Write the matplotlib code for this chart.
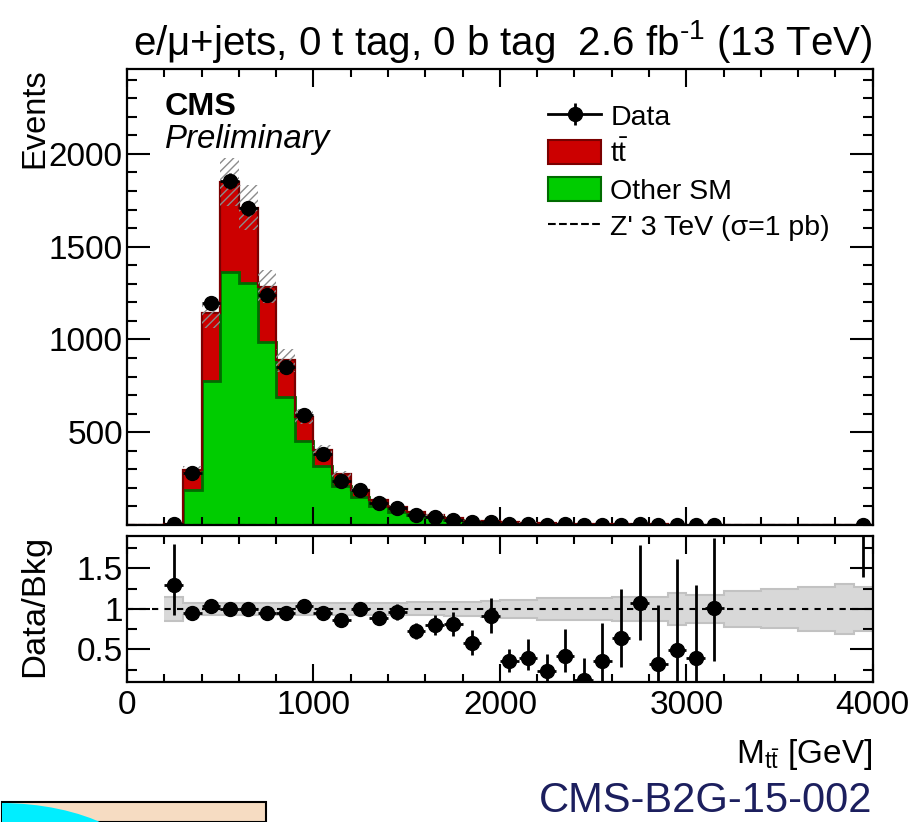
import numpy as np
import matplotlib
matplotlib.use("Agg")
import matplotlib.pyplot as plt
from matplotlib.patches import Patch, Rectangle, Ellipse
from matplotlib.lines import Line2D
from matplotlib.ticker import MultipleLocator, FixedLocator, FuncFormatter

plt.rcParams['font.family'] = ['Liberation Sans', 'DejaVu Sans']
plt.rcParams['mathtext.fontset'] = 'custom'
plt.rcParams['mathtext.rm'] = 'Liberation Sans'
plt.rcParams['mathtext.it'] = 'Liberation Sans:italic'
plt.rcParams['mathtext.bf'] = 'Liberation Sans:bold'
plt.rcParams['hatch.linewidth'] = 1.0
plt.rcParams['hatch.color'] = '#8c8c8c'

# 100 GeV bins, 0 - 4000 GeV
edges = np.arange(0, 4100, 100)
centers = edges[:-1] + 50

other_sm = np.array([0, 0, 4, 191, 777, 1361, 1305, 987, 690, 451,
                     317, 209, 151, 101, 72, 55, 42, 28, 19, 16,
                     13, 10, 7, 5.5, 4.5, 3.5, 2.8, 2.3, 2.2, 1.6,
                     1.5, 1.0, 0.8, 0.6, 0.5, 0.4, 0.3, 0.25, 0.2, 0.2])
ttbar = np.array([0, 0, 2, 104, 363, 489, 405, 297, 198, 132,
                  86, 64, 36, 32, 24, 16, 12, 8, 5, 4,
                  4, 3, 2, 1.6, 1.3, 1.0, 0.8, 0.6, 0.6, 0.5,
                  0.4, 0.3, 0.25, 0.2, 0.15, 0.12, 0.1, 0.08, 0.06, 0.05])
nan = np.nan
data = np.array([nan, nan, 8, 280, 1197, 1854, 1706, 1239, 849, 592,
                 385, 236, 187, 121, 92, 52, 43, 29, 14, 18,
                 6, 5, 2, 3, 1, 1, 2, 3, 1, 1,
                 1, 1, nan, nan, nan, nan, nan, nan, nan, 1])
zprime = np.array([0, 0, 0, 0, 0, 0, 0, 0.1, 0.1, 0.1,
                   0.1, 0.2, 0.2, 0.2, 0.3, 0.3, 0.4, 0.4, 0.5, 0.5,
                   0.6, 0.7, 0.8, 0.9, 1.0, 1.1, 1.3, 1.5, 1.8, 2.0,
                   1.6, 1.0, 0.6, 0.4, 0.3, 0.2, 0.2, 0.1, 0.1, 0.1])

# relative background uncertainty (band / hatch)
bkg_unc = np.array([nan, nan, 0.15, 0.07, 0.07, 0.07, 0.07, 0.07, 0.07, 0.07,
                    0.07, 0.07, 0.07, 0.075, 0.075, 0.08, 0.08, 0.085, 0.09, 0.10,
                    0.115, 0.115, 0.14, 0.14, 0.14, 0.14, 0.15, 0.15, 0.15, 0.20,
                    0.17, 0.17, 0.22, 0.22, 0.24, 0.24, 0.27, 0.27, 0.31, 0.27])

ratio = np.array([nan, nan, 1.29, 0.95, 1.04, 1.0, 1.0, 0.95, 0.95, 1.03,
                  0.95, 0.86, 1.0, 0.89, 0.96, 0.73, 0.80, 0.81, 0.58, 0.91,
                  0.35, 0.39, 0.23, 0.42, 0.12, 0.35, 0.64, 1.07, 0.32, 0.49,
                  0.39, 1.01, nan, nan, nan, nan, nan, nan, nan, 2.6])
ratio_up = np.array([0, 0, 0.51, 0.06, 0.035, 0.03, 0.03, 0.035, 0.04, 0.045,
                     0.05, 0.06, 0.07, 0.08, 0.10, 0.10, 0.12, 0.15, 0.16, 0.22,
                     0.16, 0.24, 0.21, 0.33, 0.27, 0.47, 0.61, 0.72, 0.73, 1.13,
                     0.91, 0.87, 0, 0, 0, 0, 0, 0, 0, 1.0])
ratio_dn = np.array([0, 0, 0.37, 0.06, 0.035, 0.03, 0.03, 0.035, 0.04, 0.045,
                     0.05, 0.06, 0.07, 0.08, 0.10, 0.10, 0.12, 0.14, 0.15, 0.21,
                     0.13, 0.15, 0.13, 0.20, 0.12, 0.24, 0.36, 0.46, 0.27, 0.39,
                     0.34, 0.65, 0, 0, 0, 0, 0, 0, 0, 1.21])

green = '#00cc00'
green_edge = '#006b00'
red = '#cc0000'
red_edge = '#7a0000'

fig = plt.figure(figsize=(9.1, 8.22), dpi=100)
ax = fig.add_axes([0.1396, 0.3613, 0.8195, 0.5542])
rax = fig.add_axes([0.1396, 0.1707, 0.8195, 0.1772])

total = other_sm + ttbar

# stacked backgrounds
ax.stairs(other_sm, edges, fill=True, color=green, zorder=1)
ax.stairs(total, edges, baseline=other_sm, fill=True, color=red, zorder=1)
ax.stairs(other_sm, edges, color=green_edge, lw=2, zorder=2)
ax.stairs(total, edges, color=red_edge, lw=1.6, baseline=None, zorder=2)

# uncertainty hatch
unc = np.nan_to_num(bkg_unc)
ax.stairs(total * (1 + unc), edges, baseline=total * (1 - unc), fill=True,
          facecolor='none', edgecolor='#8c8c8c', hatch='////', lw=0, zorder=3)

ax.stairs(zprime, edges, color='k', ls='--', lw=1.5, zorder=4)

ax.errorbar(centers, data, yerr=np.sqrt(data), xerr=50, fmt='o', color='k',
            ms=10, elinewidth=2, capsize=0, zorder=5)

ax.set_xlim(0, 4000)
ax.set_ylim(0, 2455)
ax.xaxis.set_major_locator(MultipleLocator(1000))
ax.xaxis.set_minor_locator(MultipleLocator(200))
ax.yaxis.set_major_locator(FixedLocator([500, 1000, 1500, 2000]))
ax.yaxis.set_minor_locator(MultipleLocator(100))
ax.tick_params(labelbottom=False)

# ratio panel
ru = bkg_unc[2:]
rax.stairs(1 + ru, edges[2:], baseline=1 - ru, fill=True, color='#d8d8d8', zorder=1)
rax.stairs(1 + ru, edges[2:], baseline=None, color='#c2c2c2', lw=1.5, zorder=2)
rax.stairs(1 - ru, edges[2:], baseline=None, color='#c2c2c2', lw=1.5, zorder=2)
rax.axhline(1, color='k', ls=(0, (3, 3)), lw=1.5, zorder=3)
rax.errorbar(centers, ratio, yerr=[ratio_dn, ratio_up], xerr=50, fmt='o', color='k',
             ms=10, elinewidth=2, capsize=0, zorder=5)
rax.set_xlim(0, 4000)
rax.set_ylim(0.1, 1.9)
rax.xaxis.set_major_locator(MultipleLocator(1000))
rax.xaxis.set_minor_locator(MultipleLocator(200))
rax.yaxis.set_major_locator(FixedLocator([0.5, 1.0, 1.5]))
rax.yaxis.set_minor_locator(FixedLocator([0.25, 0.75, 1.25, 1.75]))
rax.yaxis.set_major_formatter(FuncFormatter(lambda v, p: '%g' % v))

for a in (ax, rax):
    for s in a.spines.values():
        s.set_linewidth(1.6)
    a.tick_params(which='both', direction='in', top=True, right=True, width=1.5,
                  labelsize=24)
    a.tick_params(axis='x', which='major', length=13, pad=6)
    a.tick_params(axis='x', which='minor', length=6)
    a.tick_params(axis='y', which='major', length=16.5, pad=3)
    a.tick_params(axis='y', which='minor', length=7.5)

# legend
data_handle = (Line2D([], [], color='k', lw=2, marker='o', ms=10),
               Line2D([], [], color='k', lw=0, marker='|', ms=16, mew=2))
leg_handles = [data_handle,
               Patch(facecolor=red, edgecolor=red_edge, lw=1.5),
               Patch(facecolor=green, edgecolor=green_edge, lw=1.5),
               Line2D([], [], color='k', ls='--', lw=1.5)]
leg_labels = ['Data', r'$\mathrm{t\bar{t}}$', 'Other SM', "Z' 3 TeV (σ=1 pb)"]
ax.legend(leg_handles, leg_labels, loc='upper left',
          bbox_to_anchor=(548 / 910, 1 - 103 / 822), bbox_transform=fig.transFigure,
          frameon=False, fontsize=20.5, handlelength=1.87, handleheight=0.95,
          handletextpad=0.32, labelspacing=0.3, borderpad=0, borderaxespad=0)

# texts
fig.text(872 / 910, 1 - 55 / 822,
         r"e/μ+jets, 0 t tag, 0 b tag  2.6 fb$^{\text{-}1}$ (13 TeV)",
         ha='right', va='baseline', fontsize=29)
fig.text(165 / 910, 1 - 115 / 822, 'CMS', fontweight='bold', fontsize=23.3,
         ha='left', va='baseline')
fig.text(165 / 910, 1 - 148 / 822, 'Preliminary', fontstyle='italic', fontsize=23.8,
         ha='left', va='baseline')
fig.text(43.5 / 910, 1 - 68 / 822, 'Events', rotation=90, rotation_mode='anchor',
         ha='right', va='baseline', fontsize=23.5)
fig.text(43.5 / 910, 1 - 535 / 822, 'Data/Bkg', rotation=90, rotation_mode='anchor',
         ha='right', va='baseline', fontsize=24.8)
fig.text(872 / 910, 1 - 763 / 822, r'M$_{\mathrm{t\bar{t}}}$ [GeV]',
         ha='right', va='baseline', fontsize=24)
fig.text(872 / 910, 1 - 812 / 822, 'CMS-B2G-15-002', color='#1c1f5e',
         ha='right', va='baseline', fontsize=30)

# clipped slide decoration in the lower left corner
box = Rectangle((2 / 910, 0), 264 / 910, 20 / 822, transform=fig.transFigure,
                facecolor='#f6dcc2', edgecolor='k', lw=1.5)
fig.patches.append(box)
arc = Ellipse((0, 1 - 880 / 822), 304 / 910, 154 / 822, transform=fig.transFigure,
              facecolor='#00eeff', edgecolor='none')
arc.set_clip_path(box)
fig.patches.append(arc)

fig.savefig('out.png', dpi=100)
